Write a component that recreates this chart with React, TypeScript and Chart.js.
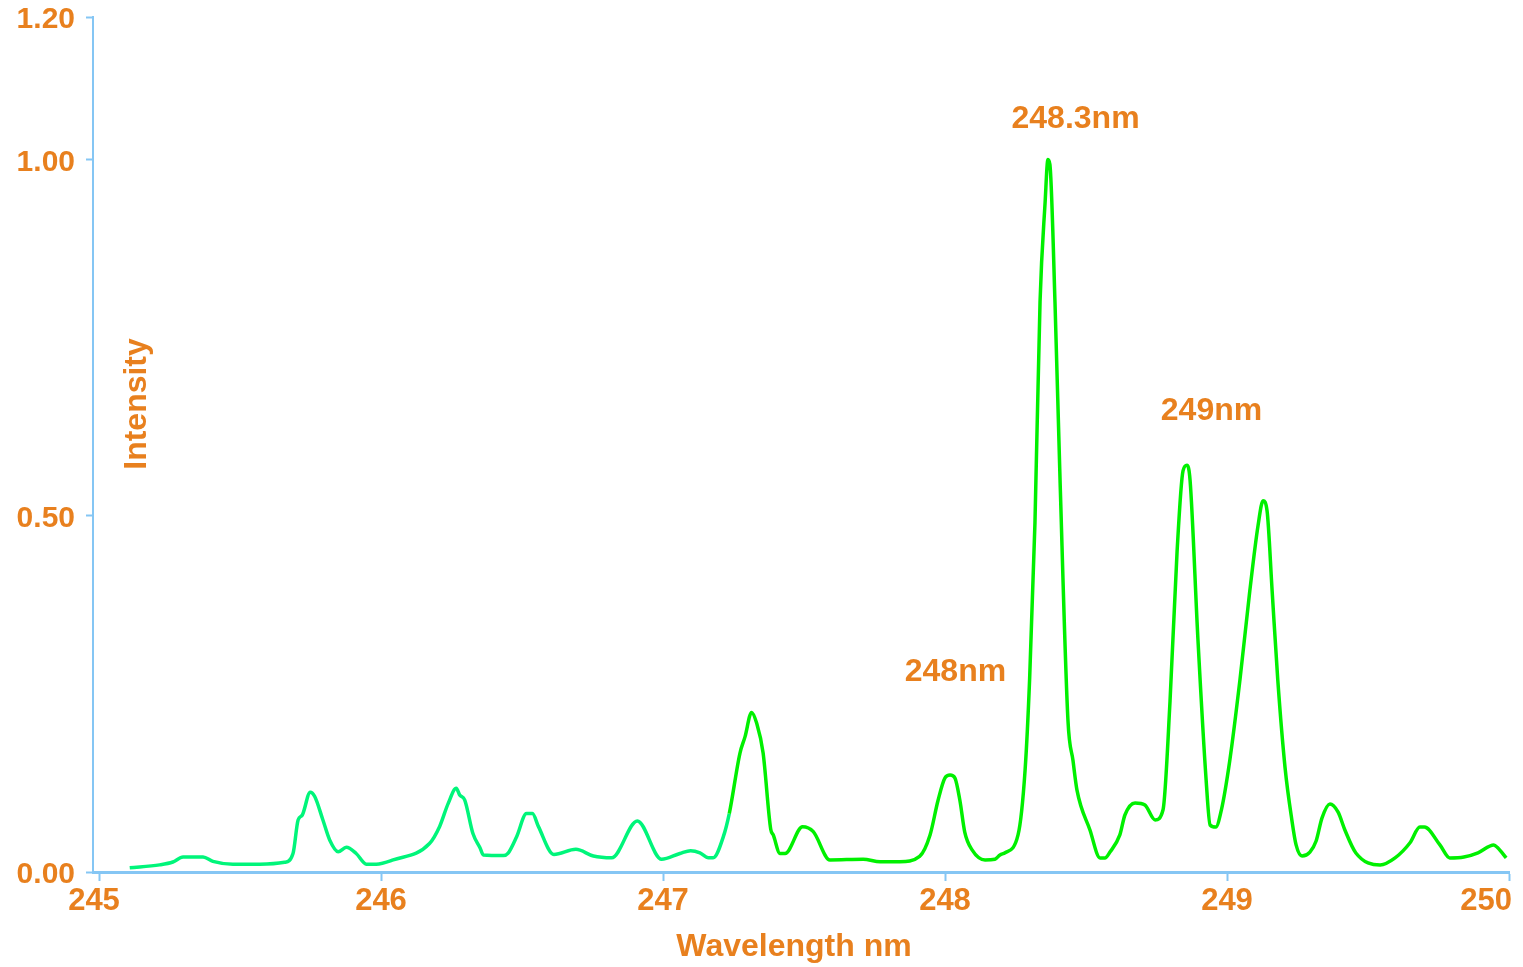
import React, { useEffect, useRef } from "react";
import { Chart, registerables } from "chart.js";

Chart.register(...registerables);

const wavelengths = [
  245.109, 245.215, 245.262, 245.298, 245.369, 245.404, 245.475, 245.57, 245.658, 245.688,
  245.706, 245.721, 245.749, 245.765, 245.794, 245.818, 245.848, 245.877, 245.912, 245.948,
  245.983, 246.043, 246.172, 246.208, 246.238, 246.267, 246.279, 246.297, 246.326, 246.351,
  246.363, 246.434, 246.45, 246.481, 246.516, 246.537, 246.558, 246.613, 246.691, 246.753,
  246.818, 246.909, 246.995, 247.06, 247.098, 247.131, 247.161, 247.178, 247.214, 247.235,
  247.273, 247.291, 247.314, 247.332, 247.355, 247.382, 247.391, 247.415, 247.433, 247.495,
  247.533, 247.592, 247.71, 247.77, 247.84, 247.91, 247.947, 247.975, 248.0, 248.018,
  248.035, 248.053, 248.07, 248.096, 248.142, 248.177, 248.195, 248.213, 248.259, 248.284,
  248.3, 248.319, 248.337, 248.355, 248.365, 248.372, 248.39, 248.408, 248.436, 248.454,
  248.468, 248.514, 248.55, 248.567, 248.585, 248.62, 248.638, 248.674, 248.709, 248.745,
  248.773, 248.798, 248.823, 248.844, 248.858, 248.869, 248.897, 248.926, 248.94, 248.96,
  248.98, 249.01, 249.046, 249.081, 249.11, 249.128, 249.142, 249.16, 249.18, 249.206,
  249.23, 249.245, 249.266, 249.294, 249.316, 249.337, 249.365, 249.394, 249.418, 249.457,
  249.543, 249.596, 249.649, 249.684, 249.7, 249.755, 249.79, 249.84, 249.89, 249.946,
  249.96, 249.99,
];

const intensities = [
  0.006, 0.01, 0.014, 0.021, 0.021, 0.015, 0.011, 0.011, 0.0136, 0.026,
  0.073, 0.08, 0.112, 0.106, 0.073, 0.045, 0.0285, 0.0346, 0.026, 0.011,
  0.011, 0.017, 0.04, 0.064, 0.096, 0.1175, 0.108, 0.101, 0.054, 0.034,
  0.024, 0.023, 0.026, 0.0496, 0.082, 0.082, 0.064, 0.0246, 0.0318, 0.0225,
  0.02, 0.0716, 0.0178, 0.026, 0.03, 0.027, 0.02, 0.02, 0.0496, 0.082,
  0.167, 0.19, 0.224, 0.209, 0.167, 0.06, 0.052, 0.026, 0.026, 0.0636,
  0.0566, 0.0169, 0.018, 0.0145, 0.0145, 0.022, 0.052, 0.1, 0.132, 0.136,
  0.132, 0.1, 0.056, 0.031, 0.0169, 0.018, 0.024, 0.027, 0.052, 0.143,
  0.27, 0.49, 0.8, 0.94, 1.0, 0.993, 0.8, 0.55, 0.213, 0.156,
  0.115, 0.059, 0.0197, 0.0197, 0.028, 0.052, 0.08, 0.097, 0.094, 0.073,
  0.087, 0.24, 0.45, 0.563, 0.571, 0.55, 0.326, 0.129, 0.066, 0.063,
  0.087, 0.157, 0.27, 0.395, 0.486, 0.521, 0.507, 0.395, 0.27, 0.146,
  0.073, 0.038, 0.0225, 0.028, 0.0435, 0.076, 0.0955, 0.084, 0.059, 0.0267,
  0.0098, 0.0197, 0.041, 0.063, 0.063, 0.038, 0.0197, 0.021, 0.027, 0.038,
  0.034, 0.0197,
];

const xTicks = [245, 246, 247, 248, 249, 250];
const yTicks = [0, 0.5, 1.0, 1.2];

const annotationLabels = ["248.3nm", "249nm", "248nm"];
const annotationX = [248.463, 248.945, 248.037];
const annotationY = [1.056, 0.647, 0.281];

const xTitle = "Wavelength nm";
const yTitle = "Intensity";

const ORANGE = "#e8801e";
const AXIS = "#85c6f4";
const SPRING = "#00f57a";
const LIME = "#00f000";
const FONT = "'Liberation Sans', Arial, sans-serif";

export default function App() {
  const ref = useRef<HTMLCanvasElement | null>(null);

  useEffect(() => {
    if (!ref.current) return;
    const textPlugin = {
      id: "texts",
      afterDraw(chart: any) {
        const { ctx, chartArea, scales } = chart;
        const xs = scales.x;
        const ys = scales.y;
        ctx.save();
        ctx.fillStyle = ORANGE;
        // x tick labels
        ctx.font = `bold 31px ${FONT}`;
        ctx.textBaseline = "middle";
        xTicks.forEach((v, i) => {
          const px = xs.getPixelForValue(v);
          if (i === xTicks.length - 1) {
            ctx.textAlign = "right";
            ctx.fillText(String(v), px + 3, chartArea.bottom + 29);
          } else {
            ctx.textAlign = "center";
            ctx.fillText(String(v), px - (i === 0 ? 5 : 0), chartArea.bottom + 29);
          }
        });
        // annotations
        ctx.font = `bold 32px ${FONT}`;
        ctx.textAlign = "center";
        annotationLabels.forEach((t, i) => {
          ctx.fillText(t, xs.getPixelForValue(annotationX[i]), ys.getPixelForValue(annotationY[i]));
        });
        // x title
        ctx.font = `bold 32px ${FONT}`;
        ctx.fillText(xTitle, (chartArea.left + chartArea.right) / 2 - 7, chartArea.bottom + 75);
        // y title (inside the plot)
        ctx.translate(chartArea.left + 44, chartArea.top + (chartArea.bottom - chartArea.top) * 0.4526);
        ctx.rotate(-Math.PI / 2);
        ctx.fillText(yTitle, 0, 0);
        ctx.restore();
      },
    };

    const chart = new Chart(ref.current, {
      type: "line",
      data: {
        datasets: [
          {
            data: wavelengths.map((w, i) => ({ x: w, y: intensities[i] })),
            borderColor: LIME,
            borderWidth: 3.5,
            pointRadius: 0,
            fill: false,
            cubicInterpolationMode: "monotone",
            segment: {
              borderColor: (c: any) => (c.p0.parsed.x < 247.22 ? SPRING : LIME),
            },
          },
        ],
      },
      options: {
        animation: false,
        responsive: true,
        maintainAspectRatio: false,
        layout: { padding: { left: 0, right: 14, top: 17, bottom: 0 } },
        plugins: { legend: { display: false }, tooltip: { enabled: false } },
        scales: {
          x: {
            type: "linear",
            min: 245 - 6 / 282,
            max: 250,
            afterBuildTicks: (s: any) => {
              s.ticks = xTicks.map((v) => ({ value: v }));
            },
            afterFit: (s: any) => {
              s.height = 95;
            },
            ticks: { display: false },
            grid: {
              drawOnChartArea: false,
              drawTicks: true,
              tickLength: 9,
              tickColor: AXIS,
              tickWidth: 2,
            },
            border: { color: AXIS, width: 3 },
          },
          y: {
            type: "linear",
            min: 0,
            max: 1.2,
            afterBuildTicks: (s: any) => {
              s.ticks = yTicks.map((v) => ({ value: v }));
            },
            afterFit: (s: any) => {
              s.width = 93;
            },
            ticks: {
              color: ORANGE,
              font: { family: FONT, size: 30, weight: "bold", lineHeight: 0.4 },
              padding: 11,
              labelOffset: 3,
              callback: (v: any) => Number(v).toFixed(2),
            },
            grid: {
              drawOnChartArea: false,
              drawTicks: true,
              tickLength: 7,
              tickColor: AXIS,
              tickWidth: 2,
            },
            border: { color: AXIS, width: 2 },
          },
        },
      },
      plugins: [textPlugin],
    });
    return () => chart.destroy();
  }, []);

  return (
    <div style={{ position: "fixed", left: 0, top: 0, width: 1523, height: 967, background: "#fff" }}>
      <canvas ref={ref} />
    </div>
  );
}
